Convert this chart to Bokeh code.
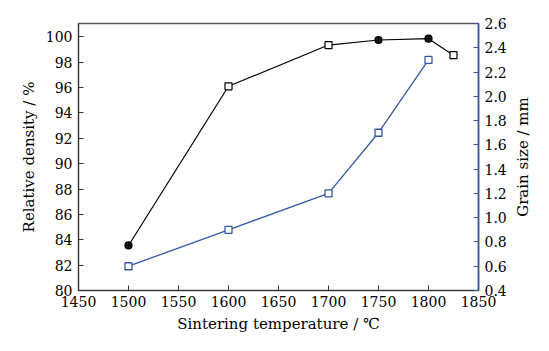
import math
from bokeh.plotting import figure
from bokeh.layouts import row
from bokeh.models import Range1d, LinearAxis, FixedTicker, NumeralTickFormatter
from bokeh.core.properties import value
from bokeh.embed import file_html
from bokeh.resources import INLINE

# data
temp_density = [1500, 1600, 1700, 1750, 1800, 1825]
rel_density = [83.55, 96.1, 99.35, 99.75, 99.85, 98.55]
temp_grain = [1500, 1600, 1700, 1750, 1800]
grain_size = [0.6, 0.9, 1.2, 1.7, 2.3]
x_ticks = [1450, 1500, 1550, 1600, 1650, 1700, 1750, 1800, 1850]
y_ticks = [80, 82, 84, 86, 88, 90, 92, 94, 96, 98, 100]
y2_ticks = [0.4, 0.6, 0.8, 1.0, 1.2, 1.4, 1.6, 1.8, 2.0, 2.2, 2.4, 2.6]
right_title = "Grain size / mm"

# styles
density_markers = ["circle_cross", "square", "square", "circle_cross", "circle_cross", "square"]
FONT = "DejaVu Serif"
TICK_SIZE = "14px"
LABEL_SIZE = "15px"
BLUE = "#3358a8"

p = figure(width=510, height=351, output_backend="svg", toolbar_location=None,
           x_range=Range1d(1450, 1850), y_range=Range1d(80, 101.05),
           min_border_left=78, min_border_right=32, min_border_top=23, min_border_bottom=61)
p.extra_y_ranges = {"g": Range1d(0.4, 2.6)}
p.grid.visible = False
p.outline_line_color = "#555555"
p.outline_line_width = 1.5
p.background_fill_color = "white"
p.border_fill_color = "white"

for ax in (p.xaxis[0], p.yaxis[0]):
    ax.major_tick_in = 5
    ax.major_tick_out = 0
    ax.minor_tick_line_color = None
    ax.axis_line_color = "#333333"
    ax.major_tick_line_color = "#333333"
    ax.major_label_text_font = FONT
    ax.major_label_text_font_size = TICK_SIZE
    ax.major_label_text_color = "black"
    ax.axis_label_text_font = FONT
    ax.axis_label_text_font_size = LABEL_SIZE
    ax.axis_label_text_font_style = "normal"
    ax.axis_label_text_color = "black"

p.xaxis.ticker = FixedTicker(ticks=x_ticks)
p.yaxis.ticker = FixedTicker(ticks=y_ticks)
p.xaxis.axis_label = "Sintering temperature / ℃"
p.yaxis.axis_label = "Relative density / %"
p.xaxis.major_label_standoff = 5
p.yaxis.major_label_standoff = 6
p.xaxis.axis_label_standoff = 5
p.yaxis.axis_label_standoff = 5

ax2 = LinearAxis(y_range_name="g", ticker=FixedTicker(ticks=y2_ticks),
                 formatter=NumeralTickFormatter(format="0.0"))
ax2.major_tick_in = 5
ax2.major_tick_out = 0
ax2.minor_tick_line_color = None
ax2.axis_line_color = BLUE
ax2.axis_line_width = 1.5
ax2.major_tick_line_color = BLUE
ax2.major_label_text_font = FONT
ax2.major_label_text_font_size = TICK_SIZE
ax2.major_label_text_color = "black"
ax2.major_label_standoff = 6
p.add_layout(ax2, "right")

p.line(temp_density, rel_density, line_color="black", line_width=1.2)
for i in range(len(temp_density)):
    m = density_markers[i]
    if m == "square":
        p.scatter([temp_density[i]], [rel_density[i]], marker="square", size=7,
                  fill_color="white", line_color="black", line_width=1.2)
    else:
        p.scatter([temp_density[i]], [rel_density[i]], marker="circle_cross", size=7,
                  fill_color="#222222", line_color="black", line_width=1.2)

p.line(temp_grain, grain_size, line_color=BLUE, line_width=1.3, y_range_name="g")
p.scatter(temp_grain, grain_size, marker="square", size=7, fill_color="white",
          line_color=BLUE, line_width=1.3, y_range_name="g")

# narrow side figure that carries the right-axis title, sharing the grain-size scale
q = figure(width=39, height=351, output_backend="svg", toolbar_location=None,
           x_range=Range1d(0, 1), y_range=Range1d(0.4, 2.6),
           min_border_left=0, min_border_right=0, min_border_top=23, min_border_bottom=61)
q.axis.visible = False
q.grid.visible = False
q.outline_line_color = None
q.background_fill_color = "white"
q.border_fill_color = "white"
q.text(x=[0.33], y=[1.5], text=[right_title], angle=math.pi / 2,
       text_align="center", text_baseline="middle", text_font=value(FONT),
       text_font_size=LABEL_SIZE, text_color="black")

open("out.html", "w").write(file_html(row(p, q), INLINE))
